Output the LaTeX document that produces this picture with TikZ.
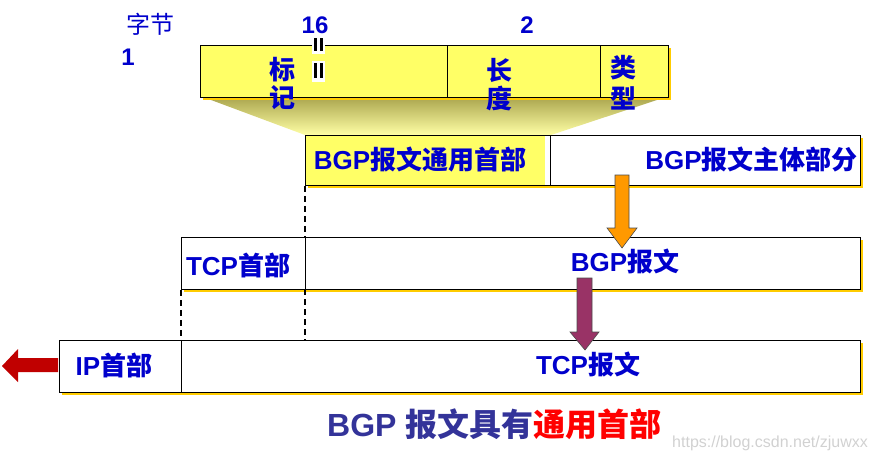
\documentclass[tikz,border=0pt]{standalone}
\usepackage{fontspec}
\setmainfont{Liberation Sans}
\newfontfamily\cjk{Noto Sans CJK SC}
\usetikzlibrary{shadows,calc}
\definecolor{txtblue}{RGB}{0,0,204}
\definecolor{capblue}{RGB}{51,51,153}
\definecolor{fyellow}{RGB}{255,255,102}
\definecolor{gold}{RGB}{255,204,0}
\definecolor{arrorange}{RGB}{255,153,0}
\definecolor{arrpurple}{RGB}{153,51,102}
\definecolor{arrred}{RGB}{192,0,0}
\tikzset{
  fieldbox/.style={draw=black, line width=0.9pt, anchor=north west, inner sep=0pt,
     drop shadow={shadow xshift=3pt, shadow yshift=-3pt, fill=gold, opacity=1}},
  lbl/.style={text=txtblue, font=\fontsize{26}{28}\selectfont\bfseries, inner sep=0pt},
  toplbl/.style={text=txtblue, font=\fontsize{24}{26}\selectfont\bfseries, inner sep=0pt},
  dashline/.style={dashed, dash pattern=on 6pt off 4pt, line width=1.4pt},
  blockarrow/.style={draw=black!70, line width=0.6pt},
}
\begin{document}
\begin{tikzpicture}[x=1pt,y=-1pt]
\useasboundingbox (0,0) rectangle (877,461);
% gradient funnel
\coordinate (fa) at (203,97);
\coordinate (fb) at (666,97);
\coordinate (fc) at (551,135);
\coordinate (fd) at (305,135);
\shade[top color={rgb,255:red,170;green,165;blue,78}, bottom color={rgb,255:red,255;green,255;blue,165}]
  (fa) -- (fb) -- (fc) -- (fd) -- cycle;

% header fields
\node[fieldbox, fill=fyellow, minimum width=247, minimum height=52] (mark) at (200,45) {};
\node[fieldbox, fill=fyellow, minimum width=153, minimum height=52] (len) at (447,45) {};
\node[fieldbox, fill=fyellow, minimum width=68, minimum height=52] (type) at (600,45) {};

% BGP message row
\node[fieldbox, fill=white, minimum width=555, minimum height=50] (bgp) at (305,135) {};
\node[draw=black, line width=0.9pt, fill=fyellow, anchor=north west, inner sep=0pt, minimum width=245, minimum height=50] (gh) at (305,135) {};
\fill[white] (545,136) rectangle (549.5,184.5);
\node[lbl, anchor=center] at (420,160) {BGP\cjk 报文通用首部};
\node[lbl, anchor=east] at (858,160) {BGP\cjk 报文主体部分};

% TCP row
\node[fieldbox, fill=white, minimum width=679, minimum height=52] (tcp) at (181,237) {};
\draw[line width=0.6pt] (305,237) -- (305,289);
\node[lbl] at (238,265) {TCP\cjk 首部};
\node[lbl] at (625,262) {BGP\cjk 报文};

% IP row
\node[fieldbox, fill=white, minimum width=801, minimum height=52] (ip) at (59,340) {};
\draw[line width=0.6pt] (181,340) -- (181,392);
\node[lbl] at (114,365) {IP\cjk 首部};
\node[lbl] at (588,365) {TCP\cjk 报文};

% dashed guides
\draw[dashline] (gh.south west) -- (gh.south west |- tcp.north);
\draw[dashline] (tcp.south west) -- (tcp.south west |- ip.north);
\draw[dashline] (305,289) -- (305,340);

% top labels
\node[toplbl] at (150,24) {\cjk\mdseries 字节};
\node[toplbl] at (128,57) {1};
\node[toplbl] at (315,25) {16};
\node[toplbl] at (527,25) {2};

% break marks
\fill[white] (312,37) rectangle (325,54);
\fill[black] (313.5,38) rectangle (316.5,51);
\fill[black] (320,38) rectangle (323,51);
\fill[white] (312,61) rectangle (325,82);
\fill[black] (313.5,63) rectangle (316.5,78);
\fill[black] (320,63) rectangle (323,78);

% field labels
\node[lbl] at (282,70) {\cjk 标};
\node[lbl] at (282,98) {\cjk 记};
\node[lbl] at (499,70) {\cjk 长};
\node[lbl] at (499,98) {\cjk 度};
\node[lbl] at (623,68) {\cjk 类};
\node[lbl] at (623,98) {\cjk 型};

% block arrows
\draw[blockarrow, fill=arrorange] (615,175) -- (629,175) -- (629,228) -- (637,228) -- (622,248) -- (607,228) -- (615,228) -- cycle;
\draw[blockarrow, fill=arrpurple] (577,278) -- (592,278) -- (592,332) -- (599,332) -- (585,350) -- (570,332) -- (577,332) -- cycle;
\fill[arrred] (58,358) -- (18,358) -- (18,349) -- (2,366) -- (18,382) -- (18,372) -- (58,372) -- cycle;

% caption
\node[text=capblue, font=\fontsize{32}{34}\selectfont\bfseries, inner sep=0pt, anchor=west] at (327,424)
  {BGP {\cjk 报文具有}\textcolor{red}{\cjk 通用首部}};
\node[text=black!18, font=\fontsize{16}{17}\selectfont, inner sep=0pt, anchor=west] at (672,443) {https://blog.csdn.net/zjuwxx};
\end{tikzpicture}
\end{document}
